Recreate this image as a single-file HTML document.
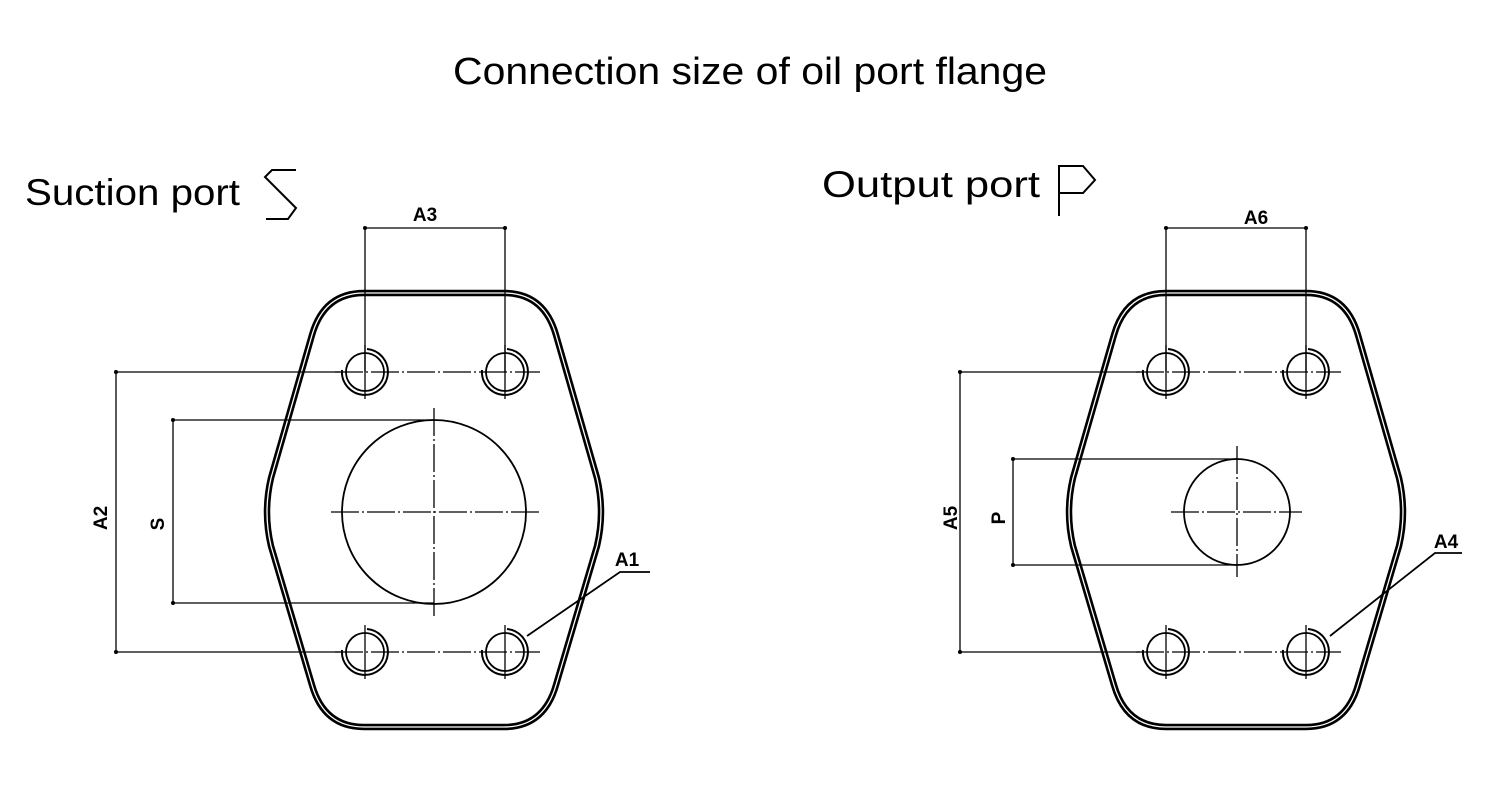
<!DOCTYPE html>
<html><head><meta charset="utf-8"><style>
html,body{margin:0;padding:0;background:#fff;width:1500px;height:798px;overflow:hidden}
svg{display:block}
.t{font-family:"Liberation Sans",sans-serif;fill:#000}
.d{font-family:"Liberation Sans",sans-serif;font-weight:bold;font-size:19px;fill:#000}
</style></head><body>
<svg width="1500" height="798" viewBox="0 0 1500 798" xmlns="http://www.w3.org/2000/svg">
<defs>
<path id="fl" d="M-70,293 L70,293 Q110,293 122,335 L163,478 Q171,512 163,546 L122,685 Q110,727 70,727 L-70,727 Q-110,727 -122,685 L-163,546 Q-171,512 -163,478 L-122,335 Q-110,293 -70,293 Z"/>
<g id="hole">
<circle r="19" fill="none" stroke="#000" stroke-width="1.8"/>
<path d="M2,-23 A23,23 0 1 1 -23,-2" fill="none" stroke="#000" stroke-width="2"/>
<line x1="0" y1="-27" x2="0" y2="27" stroke="#000" stroke-width="1.3"/>
</g>
</defs>
<text class="t" x="453" y="84" font-size="38" textLength="594" lengthAdjust="spacingAndGlyphs">Connection size of oil port flange</text>
<text class="t" x="25" y="205" font-size="37" textLength="215" lengthAdjust="spacingAndGlyphs">Suction port</text>
<path d="M296,170 L272,170 L265,177 L296,208 L288,219 L266,219" fill="none" stroke="#000" stroke-width="2"/>
<text class="t" x="822" y="197" font-size="37" textLength="218" lengthAdjust="spacingAndGlyphs">Output port</text>
<path d="M1059,216 L1059,166 L1083,166 L1095,180 L1083,193 L1059,193" fill="none" stroke="#000" stroke-width="2"/>

<!-- left flange -->
<g transform="translate(434,0)">
<use href="#fl" fill="none" stroke="#000" stroke-width="6.5"/>
<use href="#fl" fill="none" stroke="#fff" stroke-width="1.3"/>
</g>
<g stroke="#000" stroke-width="1.3" fill="none">
<line x1="335" y1="372" x2="540" y2="372" stroke-dasharray="28,3,2,3"/>
<line x1="335" y1="652" x2="540" y2="652" stroke-dasharray="28,3,2,3"/>
<circle cx="434" cy="512" r="92" stroke-width="1.8"/>
<line x1="331" y1="512" x2="540" y2="512" stroke-dasharray="28,3,2,3"/>
<line x1="434" y1="408" x2="434" y2="616" stroke-dasharray="28,3,2,3"/>
<line x1="365" y1="228" x2="505" y2="228"/>
<line x1="365" y1="228" x2="365" y2="372"/>
<line x1="505" y1="228" x2="505" y2="372"/>
<line x1="116" y1="372" x2="340" y2="372"/>
<line x1="116" y1="652" x2="340" y2="652"/>
<line x1="116" y1="372" x2="116" y2="652"/>
<line x1="173" y1="420" x2="434" y2="420"/>
<line x1="173" y1="603" x2="434" y2="603"/>
<line x1="173" y1="420" x2="173" y2="603"/>
<path d="M527,636 L620,572 L650,572" stroke-width="1.8"/>
</g>
<g fill="#000"><circle cx="365" cy="228" r="2"/><circle cx="505" cy="228" r="2"/><circle cx="116" cy="372" r="2"/><circle cx="116" cy="652" r="2"/><circle cx="173" cy="420" r="2"/><circle cx="173" cy="603" r="2"/></g>
<use href="#hole" x="365" y="372"/><use href="#hole" x="505" y="372"/>
<use href="#hole" x="365" y="652"/><use href="#hole" x="505" y="652"/>
<text class="d" x="425" y="221" text-anchor="middle">A3</text>
<text class="d" x="627" y="566" text-anchor="middle">A1</text>
<text class="d" transform="translate(107,518) rotate(-90)" text-anchor="middle">A2</text>
<text class="d" transform="translate(164,524) rotate(-90)" text-anchor="middle">S</text>

<!-- right flange -->
<g transform="translate(1236,0)">
<use href="#fl" fill="none" stroke="#000" stroke-width="6.5"/>
<use href="#fl" fill="none" stroke="#fff" stroke-width="1.3"/>
</g>
<g stroke="#000" stroke-width="1.3" fill="none">
<line x1="1136" y1="372" x2="1341" y2="372" stroke-dasharray="28,3,2,3"/>
<line x1="1136" y1="652" x2="1341" y2="652" stroke-dasharray="28,3,2,3"/>
<circle cx="1237" cy="512" r="53" stroke-width="1.8"/>
<line x1="1171" y1="512" x2="1302" y2="512" stroke-dasharray="28,3,2,3"/>
<line x1="1237" y1="446" x2="1237" y2="577" stroke-dasharray="28,3,2,3"/>
<line x1="1166" y1="228" x2="1306" y2="228"/>
<line x1="1166" y1="228" x2="1166" y2="372"/>
<line x1="1306" y1="228" x2="1306" y2="372"/>
<line x1="960" y1="372" x2="1140" y2="372"/>
<line x1="960" y1="652" x2="1140" y2="652"/>
<line x1="960" y1="372" x2="960" y2="652"/>
<line x1="1013" y1="459" x2="1237" y2="459"/>
<line x1="1013" y1="565" x2="1237" y2="565"/>
<line x1="1013" y1="459" x2="1013" y2="565"/>
<path d="M1330,636 L1435,553 L1462,553" stroke-width="1.8"/>
</g>
<g fill="#000"><circle cx="1166" cy="228" r="2"/><circle cx="1306" cy="228" r="2"/><circle cx="960" cy="372" r="2"/><circle cx="960" cy="652" r="2"/><circle cx="1013" cy="459" r="2"/><circle cx="1013" cy="565" r="2"/></g>
<use href="#hole" x="1166" y="372"/><use href="#hole" x="1306" y="372"/>
<use href="#hole" x="1166" y="652"/><use href="#hole" x="1306" y="652"/>
<text class="d" x="1256" y="224" text-anchor="middle">A6</text>
<text class="d" x="1446" y="548" text-anchor="middle">A4</text>
<text class="d" transform="translate(957,518) rotate(-90)" text-anchor="middle">A5</text>
<text class="d" transform="translate(1005,518) rotate(-90)" text-anchor="middle">P</text>
</svg>
</body></html>
